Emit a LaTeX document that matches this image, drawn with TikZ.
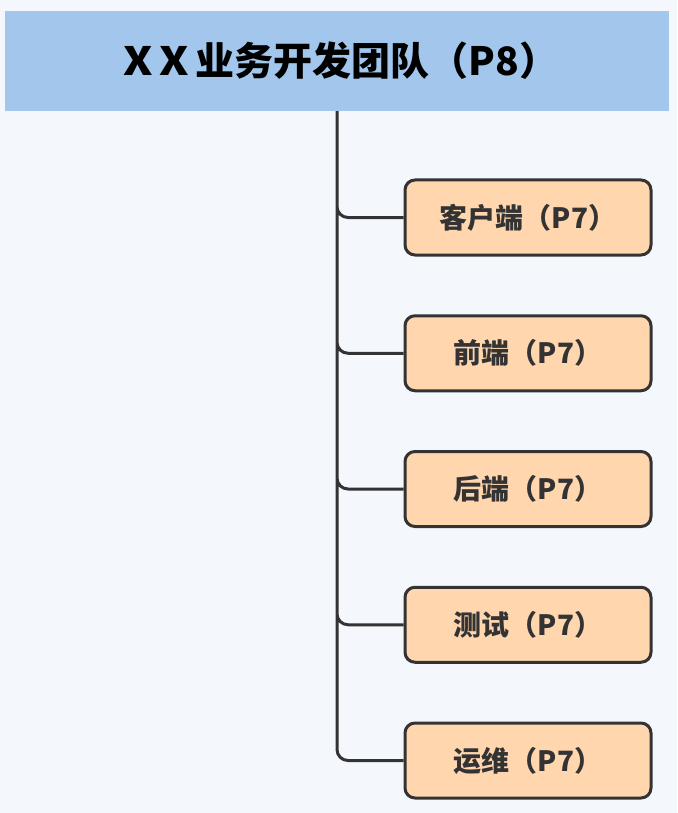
\documentclass[tikz,border=0pt]{standalone}
\usepackage{fontspec}
\setmainfont{Noto Sans CJK SC}
\usetikzlibrary{positioning}
\definecolor{pagebg}{HTML}{F4F7FC}
\definecolor{bannerblue}{HTML}{A3C7EC}
\definecolor{rolefill}{HTML}{FFD6AE}
\definecolor{inkgray}{HTML}{333333}

\begin{document}
\begin{tikzpicture}[x=1pt,y=-1pt,node distance=135.75pt,on grid,
  banner/.style={fill=bannerblue,minimum width=664pt,minimum height=100pt,
    inner sep=0pt,font=\fontsize{39}{45}\selectfont\bfseries},
  role/.style={draw=inkgray,line width=3pt,fill=rolefill,rounded corners=10pt,
    minimum width=246pt,minimum height=75pt,inner sep=0pt,
    text=inkgray,font=\fontsize{28}{33}\selectfont\bfseries},
  link/.style={draw=inkgray,line width=3pt,rounded corners=11pt}]
  \fill[pagebg] (0,0) rectangle (677,813);
  \useasboundingbox (0,0) rectangle (677,813);

  \node[banner] (team) at (337,61) {\hspace*{8pt}\scalebox{1.15}[1]{X}\,\scalebox{1.15}[1]{X}\,业务开发团队（P8）};

  \node[role] (client) at (528,217.5) {客户端（P7）};
  \node[role] (front) [below = of client] {前端（P7）};
  \node[role] (back) [below = of front] {后端（P7）};
  \node[role] (qa) [below = of back] {测试（P7）};
  \node[role] (ops) [below = of qa] {运维（P7）};

  \path[link]
  (team.south) |- (client.west)
  (team.south) |- (front.west)
  (team.south) |- (back.west)
  (team.south) |- (qa.west)
  (team.south) |- (ops.west)
  ;
\end{tikzpicture}
\end{document}
